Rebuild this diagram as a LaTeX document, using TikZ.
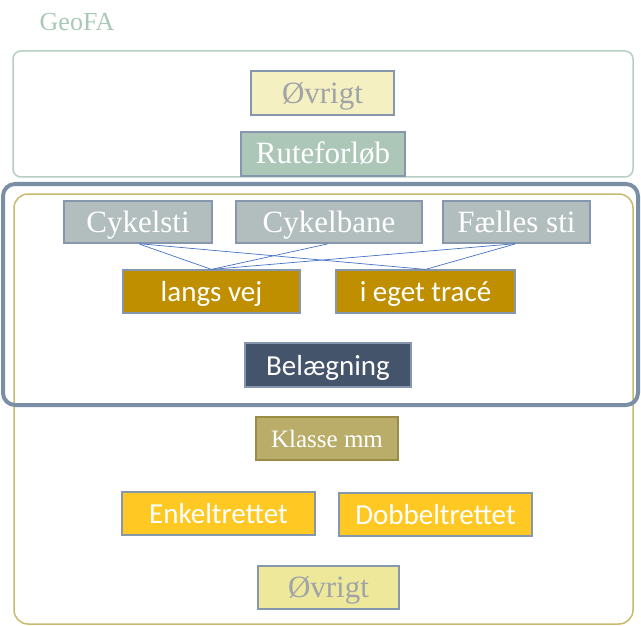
\documentclass[tikz,border=0pt]{standalone}
\usepackage{fontspec}
\setmainfont{Liberation Serif}
\newfontfamily\sansf{Carlito}
\definecolor{geofa}{HTML}{A9C9B7}
\definecolor{topframe}{HTML}{B5D0C2}
\definecolor{bluefr}{HTML}{7A8FA5}
\definecolor{goldfr}{HTML}{C8B96E}
\definecolor{nodeedge}{HTML}{8696AC}
\definecolor{ovrtop}{HTML}{F5F0C1}
\definecolor{ovrbot}{HTML}{EDE89A}
\definecolor{ovrtext}{HTML}{A0A3A8}
\definecolor{rute}{HTML}{ACC6B8}
\definecolor{cyk}{HTML}{B2BEBE}
\definecolor{langs}{HTML}{BF8F00}
\definecolor{belaeg}{HTML}{44546A}
\definecolor{klasse}{HTML}{BAAD6A}
\definecolor{klasseedge}{HTML}{9A8B45}
\definecolor{retning}{HTML}{FFC822}
\definecolor{linkc}{HTML}{4472C4}
\begin{document}
\begin{tikzpicture}[x=1pt,y=-1pt,
  boxn/.style={draw=nodeedge, line width=1.2pt, inner sep=0pt, text=white, text height=20pt, text depth=0pt},
  serifbox/.style={boxn, font=\fontsize{31}{33}\selectfont},
  sansbox/.style={boxn, font=\sansf\fontsize{29}{31}\selectfont},
  linkline/.style={draw=linkc, line width=0.7pt, shorten <=1.5pt}]
\useasboundingbox (0,0) rectangle (641,626);
% frames
\draw[topframe, line width=1.5pt, rounded corners=8pt] (13,51) rectangle (633,177);
\draw[goldfr, line width=1.5pt, rounded corners=14pt] (14,194) rectangle (633,624);
\draw[bluefr, line width=4pt, rounded corners=12pt] (3,184) rectangle (638,405);
% title
\node[text=geofa, font=\fontsize{26}{28}\selectfont] (title) at (77,22) {GeoFA};
% top group
\node[serifbox, fill=ovrtop, text=ovrtext, minimum width=143pt, minimum height=44pt] (ovtop) at (322.5,93) {Øvrigt};
\node[serifbox, fill=rute, minimum width=164pt, minimum height=44pt] (rute) at (323,154) {Ruteforløb};
% types
\node[serifbox, fill=cyk, minimum width=148pt, minimum height=42pt] (cykelsti) at (138,222) {Cykelsti};
\node[serifbox, fill=cyk, minimum width=186pt, minimum height=42pt] (cykelbane) at (329,222) {Cykelbane};
\node[serifbox, fill=cyk, minimum width=147pt, minimum height=42pt] (faelles) at (516.5,222) {Fælles sti};
\node[sansbox, fill=langs, minimum width=177pt, minimum height=43pt] (langsvej) at (211.5,291.5) {langs vej};
\node[sansbox, fill=langs, minimum width=179pt, minimum height=43pt] (eget) at (425.5,291.5) {i eget tracé};
\node[sansbox, fill=belaeg, minimum width=166pt, minimum height=44pt] (belaegning) at (328,365) {Belægning};
% lower group
\node[boxn, draw=klasseedge, fill=klasse, font=\fontsize{25}{27}\selectfont, text height=17pt, minimum width=142pt, minimum height=43pt] (klassemm) at (327,438.5) {Klasse mm};
\node[sansbox, fill=retning, minimum width=193pt, minimum height=43pt] (enkelt) at (218.5,513.5) {Enkeltrettet};
\node[sansbox, fill=retning, minimum width=193pt, minimum height=43pt] (dobbelt) at (435.5,514.5) {Dobbeltrettet};
\node[serifbox, fill=ovrbot, text=ovrtext, minimum width=141pt, minimum height=43pt] (ovbot) at (328.5,587.5) {Øvrigt};
% links
\draw[linkline] (cykelsti.south) -- (langsvej.north);
\draw[linkline] (cykelsti.south) -- (eget.north);
\draw[linkline] (cykelbane.south) -- (langsvej.north);
\draw[linkline] (faelles.south) -- (langsvej.north);
\draw[linkline] (faelles.south) -- (eget.north);
\end{tikzpicture}
\end{document}
